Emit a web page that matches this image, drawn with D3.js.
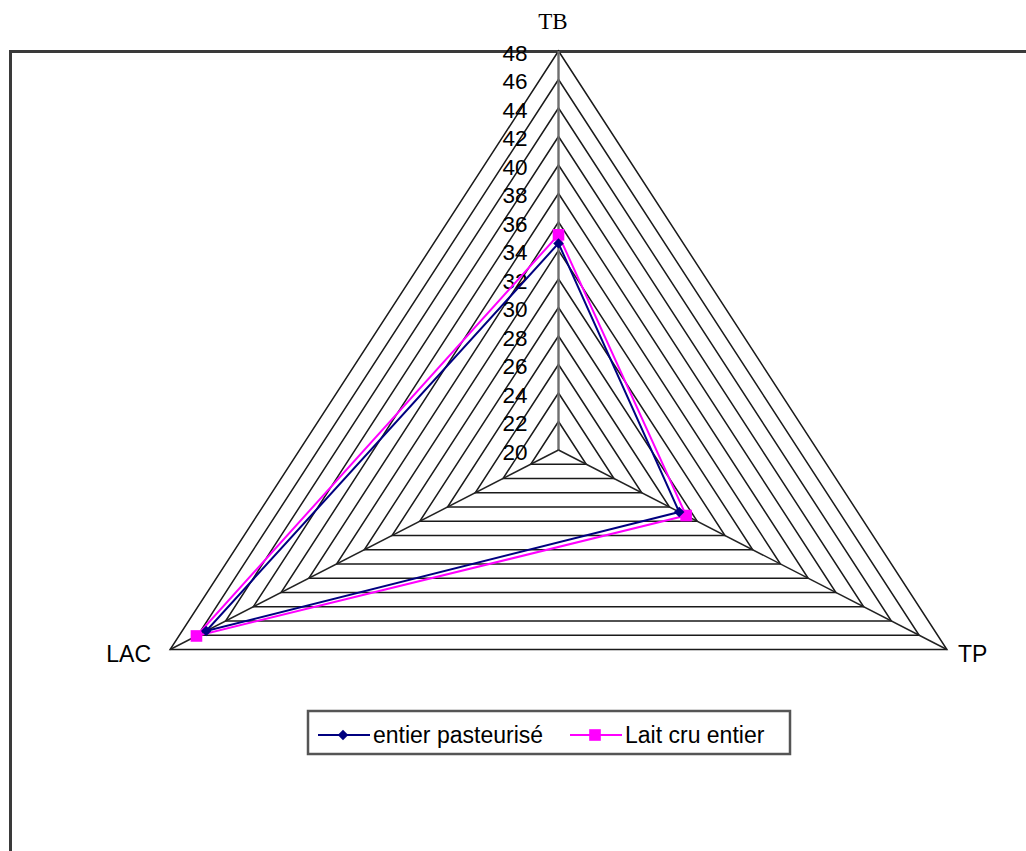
<!DOCTYPE html>
<html>
<head>
<meta charset="utf-8">
<script src="https://cdn.jsdelivr.net/npm/d3@7"></script>
<style>
  html, body { margin: 0; padding: 0; background: #fff; }
  svg { display: block; }
</style>
</head>
<body>
<svg id="chart" width="1026" height="851"></svg>
<script>
// Axes of the radar, clockwise from the top
const axes = ["TB", "TP", "LAC"];
// Ring levels and their tick labels
const ticks = [20, 22, 24, 26, 28, 30, 32, 34, 36, 38, 40, 42, 44, 46, 48];
const tickLabels = ["20", "22", "24", "26", "28", "30", "32", "34", "36", "38", "40", "42", "44", "46", "48"];
// Series values in axis order (TB, TP, LAC)
const seriesNames = ["entier pasteurisé", "Lait cru entier"];
const pasteurise = [34.5, 28.7, 45.4];
const laitCru = [35.1, 29.2, 46.1];

const svg = d3.select("#chart");
const cx = 558.5, cy = 450, R = 399, sx = 1.124;

const r = d3.scaleLinear().domain([20, 48]).range([0, R]);
const angle = d3.scalePoint().domain(axes).range([0, 240]); // degrees, clockwise from top

function pt(axis, v) {
  const a = angle(axis) * Math.PI / 180;
  return [cx + r(v) * Math.sin(a) * sx, cy - r(v) * Math.cos(a)];
}

// Outer frame
svg.append("rect")
  .attr("x", 10.5).attr("y", 51.5).attr("width", 1200).attr("height", 1000)
  .attr("fill", "none").attr("stroke", "#3a3a3a").attr("stroke-width", 3);

const grid = svg.append("g");
// Concentric rings
ticks.filter(t => t > 20).forEach(t => {
  grid.append("path")
    .attr("d", d3.line()(axes.map(a => pt(a, t))) + "Z")
    .attr("fill", "none").attr("stroke", "#1a1a1a").attr("stroke-width", 1.5);
});
// Spokes
axes.forEach(a => {
  const p = pt(a, 48);
  grid.append("line")
    .attr("x1", cx).attr("y1", cy).attr("x2", p[0]).attr("y2", p[1])
    .attr("stroke", a === "TB" ? "#6e6e6e" : "#222").attr("stroke-width", a === "TB" ? 2.4 : 1.5);
});

// Tick labels along the TB axis
svg.append("g").selectAll("text").data(ticks).join("text")
  .attr("x", cx - 31)
  .attr("y", d => pt("TB", d)[1] + 2)
  .attr("text-anchor", "end")
  .attr("dominant-baseline", "central")
  .attr("font-family", "Liberation Sans, Arial, sans-serif")
  .attr("font-size", 22.5)
  .text((d, i) => tickLabels[i]);

// Axis names
svg.append("text").attr("x", 553).attr("y", 29).attr("text-anchor", "middle")
  .attr("font-family", "Liberation Serif, Times New Roman, serif").attr("font-size", 23).text(axes[0]);
svg.append("text").attr("x", 958).attr("y", 662)
  .attr("font-family", "Liberation Sans, Arial, sans-serif").attr("font-size", 23).text(axes[1]);
svg.append("text").attr("x", 151).attr("y", 662).attr("text-anchor", "end")
  .attr("font-family", "Liberation Sans, Arial, sans-serif").attr("font-size", 23).text(axes[2]);

// Series: navy diamonds are squares turned by 45 degrees
const series = [
  { name: seriesNames[0], values: pasteurise, color: "#000080", marker: d3.symbolSquare, size: 55, rot: 45 },
  { name: seriesNames[1], values: laitCru, color: "#ff00ff", marker: d3.symbolSquare, size: 135, rot: 0 }
];

series.forEach(s => {
  const pts = axes.map((a, i) => pt(a, s.values[i]));
  svg.append("path")
    .attr("d", d3.line()(pts) + "Z")
    .attr("fill", "none").attr("stroke", s.color).attr("stroke-width", 2);
});
series.slice().reverse().forEach(s => {
  const pts = axes.map((a, i) => pt(a, s.values[i]));
  svg.append("g").selectAll("path").data(pts).join("path")
    .attr("transform", d => `translate(${d[0]},${d[1]}) rotate(${s.rot})`)
    .attr("d", d3.symbol().type(s.marker).size(s.size))
    .attr("fill", s.color);
});

// Legend
const lg = svg.append("g");
lg.append("rect").attr("x", 308).attr("y", 711).attr("width", 482).attr("height", 43)
  .attr("fill", "#fff").attr("stroke", "#555").attr("stroke-width", 2.5);
const legendItems = [
  { x: 318, s: series[0] },
  { x: 570, s: series[1] }
];
legendItems.forEach(({ x, s }) => {
  lg.append("line").attr("x1", x).attr("x2", x + 52).attr("y1", 735).attr("y2", 735)
    .attr("stroke", s.color).attr("stroke-width", 2);
  lg.append("path").attr("transform", `translate(${x + 25},735) rotate(${s.rot})`)
    .attr("d", d3.symbol().type(s.marker).size(s.size)).attr("fill", s.color);
  lg.append("text").attr("x", x + 55).attr("y", 735).attr("dominant-baseline", "central")
    .attr("font-family", "Liberation Sans, Arial, sans-serif").attr("font-size", 23).text(s.name);
});
</script>
</body>
</html>
